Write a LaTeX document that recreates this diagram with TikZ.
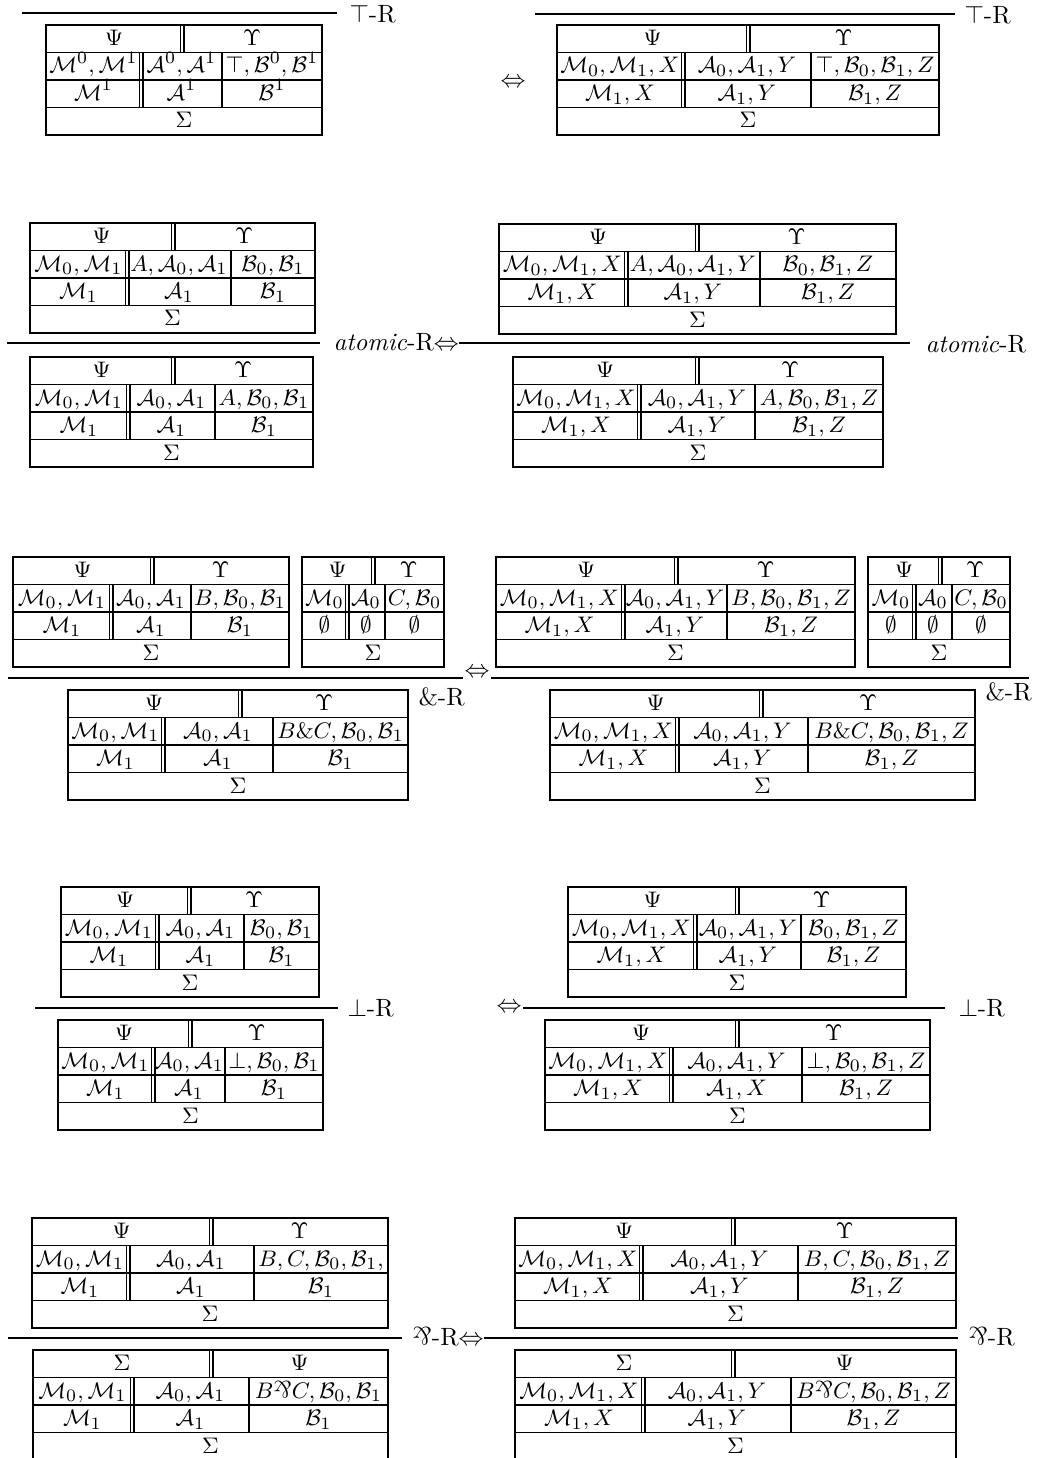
\documentclass[tikz,border=0pt]{standalone}
\usepackage{amsmath,amssymb}
\usetikzlibrary{positioning}

\newcommand{\invamp}{\mbox{\rotatebox[origin=c]{180}{\&}}}
% one sequent table: name, left, top, right, top split, double bar, single bar, top texts
\newcommand{\seqframe}[9]{%
  \draw[dblline] (#5,#3) -- (#5,#3+27.5);
  \draw[dblline] (#6,#3+27.5) -- (#6,#3+82.5);
  \draw[tabline] (#7,#3+27.5) -- (#7,#3+82.5);
  \draw[tabline] (#2,#3) rectangle (#4,#3+110);
  \foreach \rr in {1,2,3} \draw[tabline] (#2,#3+27.5*\rr) -- (#4,#3+27.5*\rr);
  \node[cell] (#1-l) at ({(#2+#5)/2},#3+20.5) {$#8$};
  \node[cell] (#1-r) at ({(#5+#4)/2},#3+20.5) {$#9$};
  \node[cell] (#1-s) at ({(#2+#4)/2},#3+103) {$\Sigma$};
  \coordinate (#1-a) at ({(#2+#6)/2},#3+48);
  \coordinate (#1-b) at ({(#6+#7)/2},#3+48);
  \coordinate (#1-c) at ({(#7+#4)/2},#3+48);}
\newcommand{\seqrows}[7]{%
  \node[cell] (#1-a1) at (#1-a) {$#2$};
  \node[cell] (#1-b1) at (#1-b) {$#3$};
  \node[cell] (#1-c1) at (#1-c) {$#4$};
  \node[cell] (#1-a2) at ([yshift=-11pt]#1-a) {$#5$};
  \node[cell] (#1-b2) at ([yshift=-11pt]#1-b) {$#6$};
  \node[cell] (#1-c2) at ([yshift=-11pt]#1-c) {$#7$};}

\begin{document}
\begin{tikzpicture}[x=0.4pt, y=-0.4pt,
  tabline/.style={line width=0.7pt},
  dblline/.style={double, double distance=1.1pt, line width=0.45pt},
  rulel/.style={line width=0.8pt},
  cell/.style={inner sep=0pt, anchor=base, font=\fontsize{9.5}{10}\selectfont},
  lab/.style={inner sep=0pt, anchor=base west},
  iff/.style={inner sep=0.5pt}]
\useasboundingbox (0,0) rectangle (1041,1458);
\clip (0,0) rectangle (1041,1458);
\coordinate (aln) at (0,343);
\coordinate (wln) at (0,678);
\coordinate (bln) at (0,1008);
\coordinate (pln) at (0,1338);

% top-R
\draw[rulel] (22,13) -- (337,13);
\node[lab] (t1lab) at (349,23) {$\top$-R};
\seqframe{t1l}{46}{25}{322}{182}{141}{222}{\Psi}{\Upsilon}
\seqrows{t1l}{\mathcal{M}^0,\mathcal{M}^1}{\mathcal{A}^0,\mathcal{A}^1}{\top,\mathcal{B}^0,\mathcal{B}^1}{\mathcal{M}^1}{\mathcal{A}^1}{\mathcal{B}^1}
\node (t1iff) at (513,83) {$\Leftrightarrow$};
\draw[rulel] (535,14) -- (955,14);
\node[lab] (t1rlab) at (964,24) {$\top$-R};
\seqframe{t1r}{557}{25}{939}{748}{683}{811}{\Psi}{\Upsilon}
\seqrows{t1r}{\mathcal{M}_0,\mathcal{M}_1,X}{\mathcal{A}_0,\mathcal{A}_1,Y}{\top,\mathcal{B}_0,\mathcal{B}_1,Z}{\mathcal{M}_1,X}{\mathcal{A}_1,Y}{\mathcal{B}_1,Z}

% atomic-R
\seqframe{a1l}{30}{223}{315}{173}{127}{231}{\Psi}{\Upsilon}
\seqrows{a1l}{\mathcal{M}_0,\mathcal{M}_1}{A,\mathcal{A}_0,\mathcal{A}_1}{\mathcal{B}_0,\mathcal{B}_1}{\mathcal{M}_1}{\mathcal{A}_1}{\mathcal{B}_1}
\draw[rulel] (7,343) -- (320,343);
\node[lab] (alab) at (333,350) {\textit{atomic}-R$\Leftrightarrow$};
\draw[rulel] (alab.east |- aln) -- (910,343);
\node[lab] (arlab) at (925,352) {\textit{atomic}-R};
\seqframe{a2l}{30}{357}{313}{173}{128}{215}{\Psi}{\Upsilon}
\seqrows{a2l}{\mathcal{M}_0,\mathcal{M}_1}{\mathcal{A}_0,\mathcal{A}_1}{A,\mathcal{B}_0,\mathcal{B}_1}{\mathcal{M}_1}{\mathcal{A}_1}{\mathcal{B}_1}
\seqframe{a1r}{499}{224}{896}{697}{626}{760}{\Psi}{\Upsilon}
\seqrows{a1r}{\mathcal{M}_0,\mathcal{M}_1,X}{A,\mathcal{A}_0,\mathcal{A}_1,Y}{\mathcal{B}_0,\mathcal{B}_1,Z}{\mathcal{M}_1,X}{\mathcal{A}_1,Y}{\mathcal{B}_1,Z}
\seqframe{a2r}{513}{357}{883}{697}{639}{755}{\Psi}{\Upsilon}
\seqrows{a2r}{\mathcal{M}_0,\mathcal{M}_1,X}{\mathcal{A}_0,\mathcal{A}_1,Y}{A,\mathcal{B}_0,\mathcal{B}_1,Z}{\mathcal{M}_1,X}{\mathcal{A}_1,Y}{\mathcal{B}_1,Z}

% with-R
\seqframe{w1l}{13}{557}{289}{152}{111}{191}{\Psi}{\Upsilon}
\seqrows{w1l}{\mathcal{M}_0,\mathcal{M}_1}{\mathcal{A}_0,\mathcal{A}_1}{B,\mathcal{B}_0,\mathcal{B}_1}{\mathcal{M}_1}{\mathcal{A}_1}{\mathcal{B}_1}
\seqframe{w1m}{302}{557}{444}{373}{347}{385}{\Psi}{\Upsilon}
\seqrows{w1m}{\mathcal{M}_0}{\mathcal{A}_0}{C,\mathcal{B}_0}{\emptyset}{\emptyset}{\emptyset}
\node[iff] (wiff) at (477,673) {$\Leftrightarrow$};
\draw[rulel] (8,678) -- (wiff.west |- wln);
\draw[rulel] (wiff.east |- wln) -- (1029,678);
\node[lab] (wllab) at (418,705) {\&-R};
\node[lab] (wrlab) at (985,700) {\&-R};
\seqframe{w2l}{68}{690}{408}{240}{163}{273}{\Psi}{\Upsilon}
\seqrows{w2l}{\mathcal{M}_0,\mathcal{M}_1}{\mathcal{A}_0,\mathcal{A}_1}{B\&C,\mathcal{B}_0,\mathcal{B}_1}{\mathcal{M}_1}{\mathcal{A}_1}{\mathcal{B}_1}
\seqframe{w1r}{496}{557}{855}{676}{623}{727}{\Psi}{\Upsilon}
\seqrows{w1r}{\mathcal{M}_0,\mathcal{M}_1,X}{\mathcal{A}_0,\mathcal{A}_1,Y}{B,\mathcal{B}_0,\mathcal{B}_1,Z}{\mathcal{M}_1,X}{\mathcal{A}_1,Y}{\mathcal{B}_1,Z}
\seqframe{w1n}{868}{557}{1010}{940}{914}{952}{\Psi}{\Upsilon}
\seqrows{w1n}{\mathcal{M}_0}{\mathcal{A}_0}{C,\mathcal{B}_0}{\emptyset}{\emptyset}{\emptyset}
\seqframe{w2r}{550}{690}{975}{761}{677}{808}{\Psi}{\Upsilon}
\seqrows{w2r}{\mathcal{M}_0,\mathcal{M}_1,X}{\mathcal{A}_0,\mathcal{A}_1,Y}{B\&C,\mathcal{B}_0,\mathcal{B}_1,Z}{\mathcal{M}_1,X}{\mathcal{A}_1,Y}{\mathcal{B}_1,Z}

% bot-R
\seqframe{b1l}{61}{887}{319}{189}{157}{244}{\Psi}{\Upsilon}
\seqrows{b1l}{\mathcal{M}_0,\mathcal{M}_1}{\mathcal{A}_0,\mathcal{A}_1}{\mathcal{B}_0,\mathcal{B}_1}{\mathcal{M}_1}{\mathcal{A}_1}{\mathcal{B}_1}
\draw[rulel] (35,1008) -- (338,1008);
\node[lab] (bllab) at (347,1016) {$\bot$-R};
\node[iff] (biff) at (509,1008) {$\Leftrightarrow$};
\draw[rulel] (biff.east |- bln) -- (945,1008);
\node[lab] (brlab) at (958,1016) {$\bot$-R};
\seqframe{b2l}{58}{1020}{323}{190}{153}{225}{\Psi}{\Upsilon}
\seqrows{b2l}{\mathcal{M}_0,\mathcal{M}_1}{\mathcal{A}_0,\mathcal{A}_1}{\bot,\mathcal{B}_0,\mathcal{B}_1}{\mathcal{M}_1}{\mathcal{A}_1}{\mathcal{B}_1}
\seqframe{b1r}{568}{887}{906}{737}{695}{801}{\Psi}{\Upsilon}
\seqrows{b1r}{\mathcal{M}_0,\mathcal{M}_1,X}{\mathcal{A}_0,\mathcal{A}_1,Y}{\mathcal{B}_0,\mathcal{B}_1,Z}{\mathcal{M}_1,X}{\mathcal{A}_1,Y}{\mathcal{B}_1,Z}
\seqframe{b2r}{545}{1020}{930}{737}{671}{802}{\Psi}{\Upsilon}
\seqrows{b2r}{\mathcal{M}_0,\mathcal{M}_1,X}{\mathcal{A}_0,\mathcal{A}_1,Y}{\bot,\mathcal{B}_0,\mathcal{B}_1,Z}{\mathcal{M}_1,X}{\mathcal{A}_1,X}{\mathcal{B}_1,Z}

% par-R
\seqframe{p1l}{32}{1218}{388}{211}{128}{254}{\Psi}{\Upsilon}
\seqrows{p1l}{\mathcal{M}_0,\mathcal{M}_1}{\mathcal{A}_0,\mathcal{A}_1}{B,C,\mathcal{B}_0,\mathcal{B}_1,}{\mathcal{M}_1}{\mathcal{A}_1}{\mathcal{B}_1}
\draw[rulel] (8,1338) -- (402,1338);
\node[lab] (pllab) at (412,1345) {\invamp-R$\Leftrightarrow$};
\draw[rulel] (pllab.east |- pln) -- (958,1338);
\node[lab] (prlab) at (968,1345) {\invamp-R};
\seqframe{p2l}{33}{1350}{388}{211}{132}{249}{\Sigma}{\Psi}
\seqrows{p2l}{\mathcal{M}_0,\mathcal{M}_1}{\mathcal{A}_0,\mathcal{A}_1}{B\invamp C,\mathcal{B}_0,\mathcal{B}_1}{\mathcal{M}_1}{\mathcal{A}_1}{\mathcal{B}_1}
\seqframe{p1r}{515}{1218}{956}{733}{641}{798}{\Psi}{\Upsilon}
\seqrows{p1r}{\mathcal{M}_0,\mathcal{M}_1,X}{\mathcal{A}_0,\mathcal{A}_1,Y}{B,C,\mathcal{B}_0,\mathcal{B}_1,Z}{\mathcal{M}_1,X}{\mathcal{A}_1,Y}{\mathcal{B}_1,Z}
\seqframe{p2r}{515}{1350}{956}{733}{643}{791}{\Sigma}{\Psi}
\seqrows{p2r}{\mathcal{M}_0,\mathcal{M}_1,X}{\mathcal{A}_0,\mathcal{A}_1,Y}{B\invamp C,\mathcal{B}_0,\mathcal{B}_1,Z}{\mathcal{M}_1,X}{\mathcal{A}_1,Y}{\mathcal{B}_1,Z}
\end{tikzpicture}
\end{document}
